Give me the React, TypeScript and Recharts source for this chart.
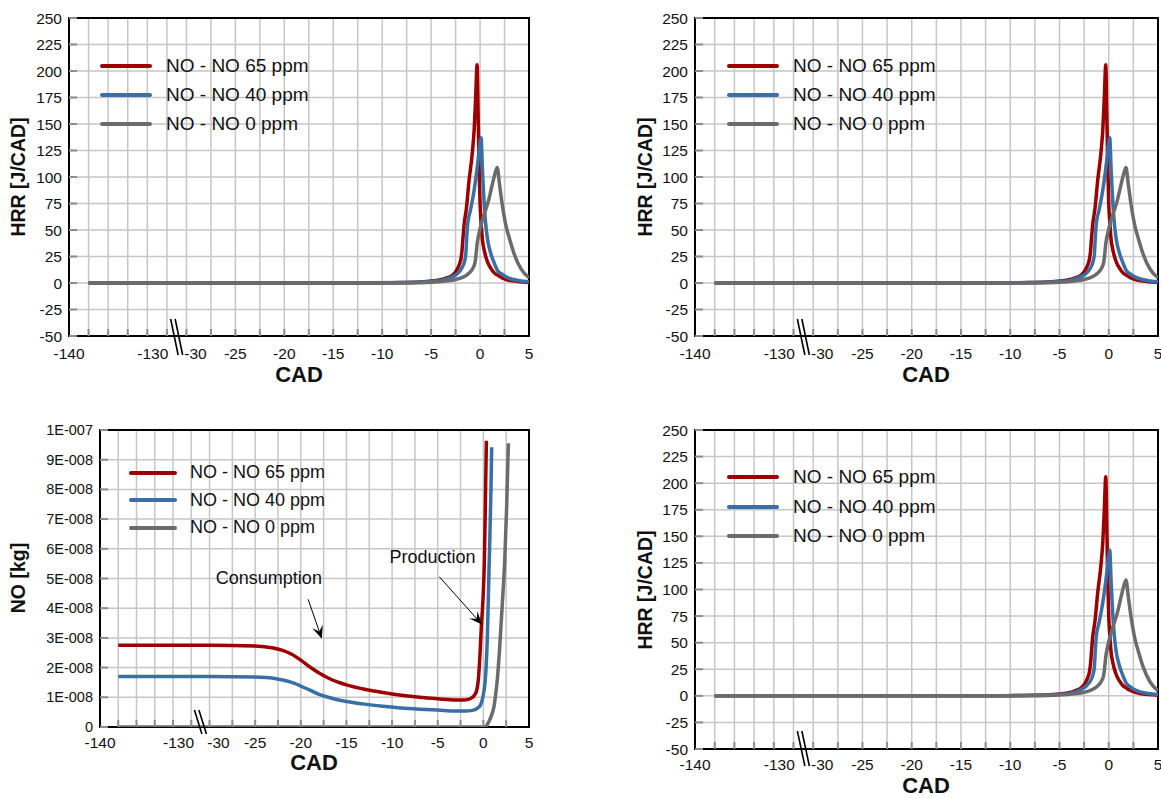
import React from 'react';
import {
  LineChart,
  Line,
  XAxis,
  YAxis,
  CartesianGrid,
  ReferenceArea,
  ReferenceLine,
  ReferenceDot,
  Legend,
} from 'recharts';

const FONT = 'Arial, "Liberation Sans", Helvetica, sans-serif';

// Crank angle axis is broken: -140..-127.5 on the left, -30..5 on the right.
const X_LABELS = [-140, -130, -30, -25, -20, -15, -10, -5, 0, 5];
const X_GRID = [
  -137.5, -135, -132.5, -130, -127.5, -30, -27.5, -25, -22.5, -20, -17.5, -15,
  -12.5, -10, -7.5, -5, -2.5, 0, 2.5,
];
const X_BREAK = -126.25;

const HRR_TICKS = [-50, -25, 0, 25, 50, 75, 100, 125, 150, 175, 200, 225, 250];
// NO mass ticks, in units of 1E-008 kg
const NO_TICKS = [0, 1, 2, 3, 4, 5, 6, 7, 8, 9, 10];
const NO_TICK_LABELS = [
  '0', '1E-008', '2E-008', '3E-008', '4E-008', '5E-008',
  '6E-008', '7E-008', '8E-008', '9E-008', '1E-007',
];

const SERIES_NAMES = ['NO - NO 65 ppm', 'NO - NO 40 ppm', 'NO - NO 0 ppm'];
const SERIES_COLORS = ['#9e0000', '#3a6ea6', '#6b6b6b'];

// heat release rate [J/CAD] vs CAD
const HRR_65: [number, number][] = [
  [-137.5, 0], [-127.5, 0], [-30, 0], [-20, 0], [-12, 0.1], [-8, 0.5],
  [-6.2, 1], [-5, 1.8], [-4.2, 2.8], [-3.5, 4.5], [-2.8, 7.5], [-2.4, 12],
  [-2.14, 17], [-1.95, 23], [-1.85, 30], [-1.75, 42], [-1.62, 56], [-1.4, 70],
  [-1.12, 97], [-0.8, 122], [-0.6, 145], [-0.45, 175], [-0.3, 206], [-0.2, 160],
  [-0.1, 110], [0, 75], [0.12, 55], [0.24, 41], [0.4, 32], [0.58, 25],
  [0.8, 19], [1.09, 14], [1.4, 10], [1.77, 7.5], [2.2, 5], [2.6, 3.5],
  [3.3, 2], [4, 1.2], [5, 0.5],
];
const HRR_40: [number, number][] = [
  [-137.5, 0], [-127.5, 0], [-30, 0], [-20, 0], [-12, 0.1], [-8, 0.4],
  [-6.2, 0.9], [-5, 1.4], [-4, 2.3], [-2.8, 6], [-2.3, 9], [-1.87, 14],
  [-1.6, 20], [-1.46, 27], [-1.35, 45], [-1.25, 57], [-1.0, 68], [-0.6, 88],
  [-0.3, 108], [-0.05, 128], [0.1, 137], [0.25, 105], [0.4, 78], [0.55, 58],
  [0.75, 42], [1.09, 28], [1.4, 20], [1.77, 12], [2.2, 8.5], [2.6, 6],
  [3.3, 3.5], [4, 2.2], [5, 1.2],
];
const HRR_0: [number, number][] = [
  [-137.5, 0], [-127.5, 0], [-30, 0], [-20, 0], [-12, 0], [-8, 0.1],
  [-6.2, 0.3], [-5, 0.7], [-3.5, 1.9], [-2.5, 3.3], [-1.8, 5.3], [-1.3, 8],
  [-0.95, 11], [-0.7, 14.5], [-0.5, 20], [-0.4, 28], [-0.3, 37], [-0.15, 45],
  [0.2, 58], [0.5, 67], [0.9, 79], [1.3, 95], [1.55, 104], [1.75, 109],
  [2.0, 92], [2.3, 72], [2.7, 52], [3.0, 42], [3.5, 27], [4.2, 13], [5, 5],
];

// NO mass [1E-008 kg] vs CAD
const NO_65: [number, number][] = [
  [-137.5, 2.75], [-127.5, 2.75], [-30, 2.75], [-25, 2.73], [-23, 2.66],
  [-22, 2.58], [-21, 2.45], [-20, 2.25], [-19, 2.02], [-18, 1.82], [-17, 1.65],
  [-16, 1.52], [-15, 1.42], [-13, 1.27], [-11, 1.16], [-9, 1.07], [-7, 1.0],
  [-5, 0.95], [-3, 0.91], [-2.1, 0.91], [-1.4, 0.96], [-0.84, 1.14],
  [-0.55, 1.6], [-0.36, 2.5], [-0.22, 3.4], [-0.04, 4.3], [0.11, 5.6],
  [0.22, 7.5], [0.33, 9.64],
];
const NO_40: [number, number][] = [
  [-137.5, 1.7], [-127.5, 1.7], [-30, 1.7], [-25, 1.68], [-23, 1.64],
  [-22, 1.58], [-21, 1.5], [-20, 1.38], [-19, 1.24], [-18, 1.1], [-17, 1.0],
  [-16, 0.92], [-15, 0.86], [-13, 0.77], [-11, 0.7], [-9, 0.64], [-7, 0.6],
  [-5, 0.57], [-3, 0.54], [-2, 0.54], [-1.2, 0.56], [-0.47, 0.67],
  [-0.04, 1.03], [0.26, 1.8], [0.44, 3.05], [0.62, 5.3], [0.84, 8.1],
  [0.91, 9.42],
];
const NO_0: [number, number][] = [
  [-137.5, 0], [-127.5, 0], [-30, 0], [-10, 0], [0, 0], [0.3, 0.03],
  [0.62, 0.19], [0.9, 0.4], [1.17, 0.7], [1.35, 1.1], [1.53, 1.6],
  [1.79, 2.7], [2.08, 4.17], [2.34, 5.6], [2.55, 7.4], [2.74, 9.55],
];

// position on the broken axis
function toAxis(cad: number) {
  return cad < -100 ? -42 + (cad + 140) * 0.8 : cad;
}
const X_DOMAIN: [number, number] = [-42, 5];
const key = (u: number) => u.toFixed(2);

const LABEL_DX: Record<string, number> = { '-130': 5.5, '-30': 9 };

type TickInfo = { grid: boolean; label?: string; dx: number; brk: boolean };
const tickInfo = new Map<string, TickInfo>();
const tickValues: number[] = [];
function addTick(cad: number): TickInfo {
  const u = toAxis(cad);
  const k = key(u);
  if (!tickInfo.has(k)) {
    tickInfo.set(k, { grid: false, dx: 0, brk: false });
    tickValues.push(u);
  }
  return tickInfo.get(k)!;
}
X_GRID.forEach((c) => (addTick(c).grid = true));
X_LABELS.forEach((c) => {
  const t = addTick(c);
  t.label = String(c);
  t.dx = LABEL_DX[String(c)] ?? 0;
});
addTick(X_BREAK).brk = true;
tickValues.sort((a, b) => a - b);

const toPoints = (rows: [number, number][]) =>
  rows.map(([cad, v]) => ({ u: toAxis(cad), v }));

interface PanelProps {
  left: number;
  top: number;
  width: number;
  height: number;
  margin: { top: number; right: number; bottom: number; left: number };
  series: [number, number][][];
  yDomain: [number, number];
  yTicks: number[];
  yLabels: string[];
  yFont: number;
  labelDy: number;
  breakSpan: [number, number];
  legend: { x: number; y: number; row: number; line: number; gap: number; font: number };
  annotate?: boolean;
}

function Panel(p: PanelProps) {
  const XTick = (props: any) => {
    const { x, y, payload } = props;
    const info = tickInfo.get(key(payload.value));
    if (!info) return <g />;
    return (
      <g>
        {info.grid && (
          <line x1={x} x2={x} y1={y} y2={y - 7} stroke="#8c8c8c" strokeWidth={2} />
        )}
        {info.brk && (
          <g stroke="#000" strokeWidth={1.6}>
            <line x1={x - 6} y1={y + p.breakSpan[0]} x2={x + 1.5} y2={y + p.breakSpan[1]} />
            <line x1={x - 1.5} y1={y + p.breakSpan[0]} x2={x + 6} y2={y + p.breakSpan[1]} />
          </g>
        )}
        {info.label && (
          <text
            x={x + info.dx}
            y={y + p.labelDy}
            textAnchor="middle"
            dominantBaseline="central"
            fontSize={15.5}
            fontFamily={FONT}
            fill="#111"
          >
            {info.label}
          </text>
        )}
      </g>
    );
  };

  const YTick = (props: any) => {
    const { x, y, payload } = props;
    const idx = p.yTicks.indexOf(payload.value);
    return (
      <g>
        <line x1={x} x2={x + 8} y1={y} y2={y} stroke="#8c8c8c" strokeWidth={2} />
        <text
          x={x - 7}
          y={y}
          textAnchor="end"
          dominantBaseline="central"
          fontSize={p.yFont}
          fontFamily={FONT}
          fill="#111"
        >
          {p.yLabels[idx]}
        </text>
      </g>
    );
  };

  const lg = p.legend;
  const renderLegend = () => (
    <div style={{ fontFamily: FONT, fontSize: lg.font, color: '#111' }}>
      {SERIES_NAMES.map((name, i) => (
        <div key={name} style={{ display: 'flex', alignItems: 'center', height: lg.row }}>
          <div style={{ width: lg.line, height: 4, background: SERIES_COLORS[i], borderRadius: 2 }} />
          <div style={{ marginLeft: lg.gap, whiteSpace: 'nowrap' }}>{name}</div>
        </div>
      ))}
    </div>
  );

  const Arrow = (props: any) => {
    const { x1, y1, x2, y2 } = props;
    const a = Math.atan2(y2 - y1, x2 - x1);
    const L = 13;
    const W = 5.5;
    const bx = x2 - L * Math.cos(a);
    const by = y2 - L * Math.sin(a);
    const nx = -Math.sin(a);
    const ny = Math.cos(a);
    const mx = x2 - L * 0.6 * Math.cos(a);
    const my = y2 - L * 0.6 * Math.sin(a);
    return (
      <g>
        <line x1={x1} y1={y1} x2={mx} y2={my} stroke="#000" strokeWidth={1} />
        <path
          d={`M${x2},${y2} L${bx + nx * W},${by + ny * W} L${mx},${my} L${bx - nx * W},${by - ny * W} Z`}
          fill="#000"
        />
      </g>
    );
  };

  const m = p.margin;
  return (
    <div style={{ position: 'absolute', left: p.left, top: p.top }}>
      <LineChart
        width={p.width}
        height={p.height}
        margin={{ top: m.top, right: m.right, bottom: m.bottom - 1, left: m.left - 1 }}
      >
        <XAxis
          xAxisId="grid"
          type="number"
          dataKey="u"
          domain={X_DOMAIN}
          ticks={X_GRID.map(toAxis)}
          interval={0}
          allowDataOverflow
          hide
        />
        <XAxis
          type="number"
          dataKey="u"
          domain={X_DOMAIN}
          ticks={tickValues}
          interval={0}
          allowDataOverflow
          height={1}
          tickSize={0}
          tickMargin={0}
          axisLine={false}
          tickLine={false}
          tick={<XTick />}
        />
        <YAxis
          type="number"
          domain={p.yDomain}
          ticks={p.yTicks}
          interval={0}
          allowDataOverflow
          width={1}
          tickSize={0}
          tickMargin={0}
          axisLine={false}
          tickLine={false}
          tick={<YTick />}
        />
        <CartesianGrid xAxisId="grid" stroke="#c6c6c6" strokeWidth={1.5} />
        {p.series.map((rows, i) => (
          <Line
            key={SERIES_NAMES[i]}
            name={SERIES_NAMES[i]}
            data={toPoints(rows)}
            dataKey="v"
            type="monotone"
            stroke={SERIES_COLORS[i]}
            strokeWidth={3.5}
            dot={false}
            activeDot={false}
            isAnimationActive={false}
          />
        ))}
        {p.annotate && (
          <ReferenceLine
            segment={[{ x: toAxis(-19.2), y: 4.3 }, { x: toAxis(-17.7), y: 2.97 }]}
            shape={(sp: any) => <Arrow {...sp} />}
          />
        )}
        {p.annotate && (
          <ReferenceLine
            segment={[{ x: toAxis(-4.83), y: 5.06 }, { x: toAxis(-0.15), y: 3.45 }]}
            shape={(sp: any) => <Arrow {...sp} />}
          />
        )}
        {p.annotate && (
          <ReferenceDot
            x={toAxis(-23.5)}
            y={5.02}
            r={1}
            fill="none"
            stroke="none"
            label={{ value: 'Consumption', position: 'center', fontSize: 18, fontFamily: FONT, fill: '#111' }}
          />
        )}
        {p.annotate && (
          <ReferenceDot
            x={toAxis(-5.57)}
            y={5.73}
            r={1}
            fill="none"
            stroke="none"
            label={{ value: 'Production', position: 'center', fontSize: 18, fontFamily: FONT, fill: '#111' }}
          />
        )}
        <ReferenceArea
          x1={X_DOMAIN[0]}
          x2={X_DOMAIN[1]}
          y1={p.yDomain[0]}
          y2={p.yDomain[1]}
          fill="none"
          fillOpacity={0}
          stroke="#000"
          strokeWidth={2}
        />
        <Legend
          layout="horizontal"
          align="center"
          verticalAlign="middle"
          content={renderLegend}
          wrapperStyle={{ left: lg.x, top: lg.y, width: 'auto', height: 'auto' }}
        />
      </LineChart>
    </div>
  );
}

function Title({ x, y, text, rotate }: { x: number; y: number; text: string; rotate?: boolean }) {
  return (
    <div
      style={{
        position: 'absolute',
        left: x,
        top: y,
        transform: `translate(-50%, -50%)${rotate ? ' rotate(-90deg)' : ''}`,
        fontFamily: FONT,
        fontWeight: 'bold',
        fontSize: rotate ? 19.5 : 22,
        whiteSpace: 'nowrap',
        color: '#111',
      }}
    >
      {text}
    </div>
  );
}

const HRR_LABELS = HRR_TICKS.map(String);

export default function App() {
  const hrrSeries = [HRR_65, HRR_40, HRR_0];
  const noSeries = [NO_65, NO_40, NO_0];
  return (
    <div
      style={{
        position: 'absolute',
        left: 0,
        top: 0,
        width: 1161,
        height: 798,
        background: '#fff',
        overflow: 'hidden',
      }}
    >
      <Panel
        left={0}
        top={0}
        width={540}
        height={395}
        margin={{ top: 18, right: 11, bottom: 59, left: 69 }}
        series={hrrSeries}
        yDomain={[-50, 250]}
        yTicks={HRR_TICKS}
        yLabels={HRR_LABELS}
        yFont={15.5}
        labelDy={17}
        breakSpan={[-17, 19]}
        legend={{ x: 100, y: 51.5, row: 29, line: 52, gap: 14, font: 19 }}
      />
      <Panel
        left={620}
        top={0}
        width={541}
        height={395}
        margin={{ top: 18, right: 3, bottom: 59, left: 75 }}
        series={hrrSeries}
        yDomain={[-50, 250]}
        yTicks={HRR_TICKS}
        yLabels={HRR_LABELS}
        yFont={15.5}
        labelDy={17}
        breakSpan={[-17, 19]}
        legend={{ x: 107, y: 51, row: 29, line: 52, gap: 14, font: 19 }}
      />
      <Panel
        left={0}
        top={405}
        width={540}
        height={393}
        margin={{ top: 25, right: 11, bottom: 71, left: 100 }}
        series={noSeries}
        yDomain={[0, 10]}
        yTicks={NO_TICKS}
        yLabels={NO_TICK_LABELS}
        yFont={14.5}
        labelDy={15}
        breakSpan={[-17, 7]}
        legend={{ x: 129, y: 54, row: 27.5, line: 48, gap: 13, font: 18 }}
        annotate
      />
      <Panel
        left={620}
        top={405}
        width={541}
        height={393}
        margin={{ top: 25, right: 3, bottom: 49, left: 75 }}
        series={hrrSeries}
        yDomain={[-50, 250]}
        yTicks={HRR_TICKS}
        yLabels={HRR_LABELS}
        yFont={15.5}
        labelDy={15}
        breakSpan={[-18, 17]}
        legend={{ x: 107, y: 57.5, row: 29.5, line: 52, gap: 14, font: 19 }}
      />
      <Title x={299} y={375} text="CAD" />
      <Title x={926} y={375} text="CAD" />
      <Title x={314} y={763} text="CAD" />
      <Title x={926} y={786} text="CAD" />
      <Title x={18} y={177} text="HRR [J/CAD]" rotate />
      <Title x={645} y={177} text="HRR [J/CAD]" rotate />
      <Title x={18} y={578} text="NO [kg]" rotate />
      <Title x={645} y={590} text="HRR [J/CAD]" rotate />
    </div>
  );
}
